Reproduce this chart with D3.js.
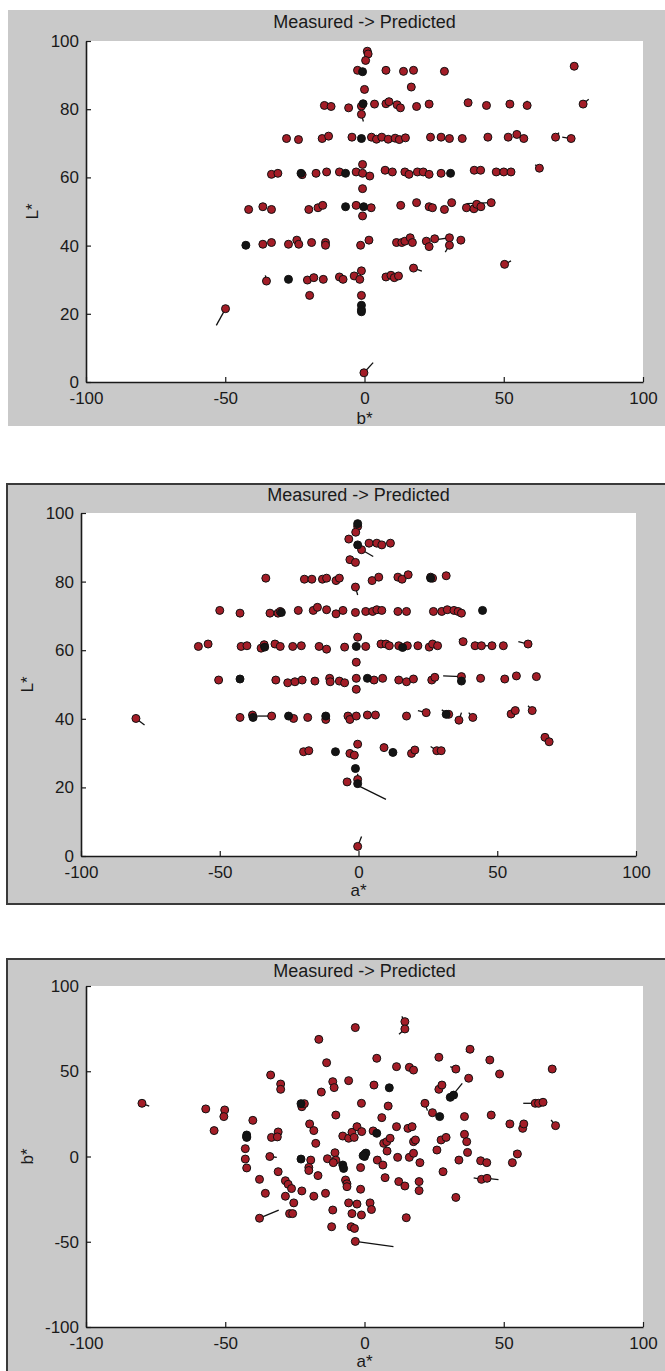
<!DOCTYPE html>
<html><head><meta charset="utf-8">
<script src="https://cdn.jsdelivr.net/npm/d3@7"></script>
<style>
html,body{margin:0;padding:0;background:#fff;}
svg text{font-family:"Liberation Sans",Arial,Helvetica,sans-serif;fill:#1a1a1a;}
</style></head>
<body>
<svg id="chart" width="665" height="1371"></svg>
<script>
// ---------- DATA ----------
const titleText = "Measured -> Predicted";
const xTicksAB = [-100, -50, 0, 50, 100];
const yTicksL = [0, 20, 40, 60, 80, 100];
const yTicksB = [-100, -50, 0, 50, 100];

// Panel 1: b* (x) vs L* (y) — measured points
const bL_points = [
[1,97],[1.3,96.2],[0.4,94.3],
[-2.5,91.4],[7.7,91.4],[14,91.1],[17.6,91.4],[28.7,91.1],
[0,85.8],[16.8,86.5],[75.3,92.6],
[-14.4,81.1],[-12,80.8],[-5.7,80.4],[-1.1,80.9],[3.6,81.5],[7.7,81.6],[8.8,82.2],[11.7,81.3],[12.9,80.4],[18.7,80.8],[23.2,81.5],[37.2,81.9],[43.8,81.1],[52.2,81.5],[58.4,81.1],[78.5,81.5],
[-1.1,78.5],
[-28,71.4],[-23.7,71.1],[-15.2,71.4],[-12.9,72.1],[-4.5,71.8],[2.5,71.8],[4.3,71.2],[6.2,71.8],[8.5,71.2],[11,71.5],[12.5,71.1],[14.7,71.6],[23.7,71.8],[27.5,71.8],[30.5,71.4],[35.1,71.4],[44.3,71.8],[51.6,71.8],[54.7,72.6],[57.2,71.4],[68.6,71.8],[74.2,71.4],
[62.8,62.7],
[-33.4,60.9],[-31.1,61.2],[-22.4,60.8],[-17.4,61.2],[-13.6,61.6],[-9,61.6],[-3,61.6],[-0.7,61.2],[1.9,60.4],[7.4,62.1],[10,61.6],[14.5,61.6],[16,60.9],[19,61.6],[21.1,61.6],[23.2,60.9],[27.5,61.2],[39.4,62.1],[41.7,62.1],[47.3,61.6],[50,61.6],[52.6,61.6],
[-0.7,63.8],[-0.7,56.7],
[-41.6,50.6],[-36.5,51.4],[-33.4,50.6],[-20,50.6],[-16.7,51.1],[-15,51.8],[-3,51.8],[2.4,51.1],[13,51.8],[18.7,52.6],[23.2,51.4],[24.4,51.1],[28.7,50.6],[31.3,52.6],[36.6,51.1],[39.3,50.8],[40.3,52.1],[41.8,51.4],[45.5,52.6],
[-0.7,48.7],
[-36.5,40.4],[-33.4,40.9],[-27.3,40.4],[-24.3,41.6],[-23.6,40.4],[-19,40.9],[-14,40.9],[-14,40.1],[-1.4,40.1],[1.6,41.6],[11.5,40.9],[13.4,40.9],[14.5,41.3],[16.4,42.3],[17.2,40.9],[22.2,41.3],[23.2,39.7],[25.2,42],[30.5,42.3],[30.5,40.1],[34.6,41.6],
[50.3,34.5],[17.6,33.4],
[-35.2,29.6],[-20.5,29.9],[-18.2,30.6],[-14.8,30.1],[-9,30.8],[-7.7,30.1],[-3.7,31.1],[-1.7,30.1],[-1.1,32.6],[7.7,30.8],[9.5,31.3],[10.7,30.6],[12.2,31.1],
[-19.7,25.4],[-1.1,25.4],
[-49.9,21.5],[-0.2,2.7]
];
// Panel 1: overlapping markers that read as black
const bL_dark = [[-0.7,91],[-0.5,81.6],[-1.1,71.4],[-22.8,61.2],[-6.8,61.2],[30.9,61.2],[-6.8,51.4],[-0.3,51.4],[-42.6,40.1],[-27.3,30.1],[-1.1,22.5],[-1.1,21.2],[-1.1,20.6]];
// Panel 1: measured -> predicted displacements [x1,y1,x2,y2]
const bL_arrows = [
[78.5,81.5,80.5,82.9],[-1.1,78.5,-0.4,76.4],[-15.2,71.4,-16.4,71.4],[68.6,71.8,69.8,73.1],[74.2,71.4,71,71.8],
[62.8,62.7,61.3,63.7],[45.5,52.6,36.6,52.3],[30.5,40.1,29,38.1],[30.5,42.3,26.5,41.8],[50.3,34.5,52.6,35.5],
[17.6,33.4,20.6,32.5],[-35.2,29.6,-35.6,31.3],[-49.9,21.5,-53.2,16.6],[-0.2,2.7,3.1,5.7],[58.4,81.1,58.4,82.5]
];

// Panel 2: a* (x) vs L* (y)
const aL_points = [
[-0.3,96.1],[-1,94.4],
[-3.5,92.4],[3.8,91.2],[6.6,91.2],[8.4,90.7],[11.5,91.2],[1.1,89.3],
[-3.1,86.4],[-1.1,85.6],
[-33.4,81],[-19.5,80.7],[-16.8,80.7],[-13,80.7],[-11.5,81],[-8.1,80.3],[-6.9,81],[4.9,80.3],[7.3,81.3],[14.2,81.3],[15.7,80.7],[17.9,82],[26,81.3],[26.7,81],[31.6,81.7],
[-1.1,78.4],
[-50,71.6],[-42.7,70.8],[-31.9,70.8],[-29,70.8],[-28.2,71.3],[-21.7,71.6],[-16.3,71.6],[-14.8,72.5],[-11.5,71.8],[-8.1,70.6],[-5.6,71.6],[-1.1,71],[2.6,71.3],[5.1,71.3],[6.6,71.8],[8.4,71.6],[14.2,71.3],[17.3,71.3],[27,71.3],[30,71.3],[32,71.8],[34.4,71.6],[35.9,71.3],[37.1,70.8],
[-0.3,63.8],
[-57.7,61.1],[-54.2,61.8],[-42.3,61.1],[-40.2,61.3],[-35.1,60.6],[-34,61.6],[-30.1,61.8],[-28.2,61.1],[-23.7,61.1],[-20.6,61.3],[-14.2,61.1],[-11.5,60.3],[-5,60.9],[2.6,61.1],[8.1,61.8],[9.9,61.8],[11.1,61.3],[14.5,61.3],[17.6,61.3],[21.4,61.3],[25.5,60.9],[26.7,61.8],[28.5,61.3],[37.7,62.5],[42,61.3],[44.3,61.3],[48.1,61.3],[52.2,61.3],[61.1,61.8],
[-0.8,56.5],
[-50.4,51.3],[-29.8,51.3],[-25.5,50.5],[-22.9,50.8],[-20.3,51.3],[-15.7,51],[-10.4,51.8],[-10.2,50.8],[-6.9,51],[-5,50.5],[-0.8,51.8],[5.6,51.3],[8.7,51.8],[14.5,51.3],[17.3,50.8],[19.8,51.6],[26.4,51.3],[27.5,52.1],[37.1,52.3],[44,51.8],[52.7,51.6],[56.9,52.5],[64.1,52.3],
[-0.8,48.6],
[-80.2,40.1],[-42.7,40.4],[-38.2,41.1],[-31.3,40.8],[-23.4,40.1],[-18.3,40.4],[-11.8,39.8],[-3.8,40.8],[-3.1,39.8],[-0.8,40.8],[3.2,41.1],[6.1,41.1],[17.3,40.8],[24.4,41.8],[32.5,41.3],[36.2,39.6],[41.2,40.4],[55,41.4],[56.5,42.4],[62.6,42.4],
[67.2,34.6],[68.7,33.3],
[-19.8,30.4],[-17.9,30.7],[-3.1,29.9],[-1.5,29.4],[-0.3,32.6],[9.2,31.6],[19.1,29.9],[20.3,30.9],[28.2,30.7],[29.8,30.7],
[-4.1,21.6],[-0.3,22.3],[-0.3,2.8]
];
const aL_dark = [[-0.3,96.9],[-0.3,90.7],[-0.8,61.1],[15.9,60.8],[-42.7,51.6],[3.2,51.8],[37.1,51],[-38,40.4],[-25.2,40.8],[-11.8,40.8],[31.6,41.3],[44.7,71.6],[-27.8,71],[-8.3,30.4],[12.4,30.2],[-1.1,25.5],[-0.3,21.1],[26,81],[-33.8,60.9]];
const aL_arrows = [
[1.1,89.3,5.3,87.3],[-1.1,78.4,-0.3,76.1],[37.7,62.5,36.2,63.2],[48.1,61.3,44.9,61.3],[61.1,61.8,57.6,62.5],
[37.1,52.3,30.5,52.5],[-38.2,40.8,-31.3,40.8],[-80.2,40.1,-77.1,38.2],[24.4,41.8,21.4,42.4],[32.5,41.3,30,42.6],
[36.2,39.6,37.1,41.8],[41.2,40.4,39.7,41.8],[62.6,42.4,61.1,43.8],[68.7,33.3,67.2,35.3],[28.2,30.7,26,31.9],
[-0.3,20.6,9.9,16.5],[-0.3,2.8,1.1,5.7],[-0.3,22.3,-0.3,24]
];

// Panel 3: a* (x) vs b* (y)
const ab_points = [
[-79.9,31.2],[-57,27.9],[-50.2,27.3],[-50.5,23.4],[-54,15.2],[-40.1,21.2],[-42.3,11.6],[-42.8,4.6],[-42.8,-1.5],[-42.3,-6.7],[-37.7,-13.4],[-35.6,-21.6],[-37.7,-36.2],
[-33.7,47.8],[-30.1,42.5],[-30.1,39.4],[-33.4,11.2],[-31,14.4],[-31.3,11.5],[-34,0],[-31,-8.9],[-28.4,-14.2],[-27.4,-16.3],[-26.2,-18.8],[-28.4,-23.3],[-25.4,-27.2],[-26.9,-33.5],[-25.8,-33.5],[-22.5,-20.2],
[-22.5,29.2],[-21.6,31],[-19.7,19.1],[-18.2,15.2],[-17.5,7.7],[-19.3,-2.1],[-20,-6.4],[-20,-8.2],[-16.7,-11.2],[-18.2,-23.3],
[-16.4,68.7],[-13.6,55],[-15.5,37.8],[-11.4,43.9],[-10.9,40.4],[-10.3,24.3],[-13.3,-1.3],[-10.6,2.2],[-10.3,-2.1],[-11.2,-3.6],[-14,-21.6],[-11.4,-31.4],[-11.8,-41.2],
[-7.8,12],[-5.7,10.7],[-4.5,14.2],[-3.7,11.2],[-6.8,-13.8],[-6.3,-16],[-6.3,-17.7],[-5.7,44.5],[-5.7,-27.2],[-4.5,-33.5],[-4.8,-41.2],[-3.6,-42.2],[-3.3,-49.8],[-3.3,75.6],[-2.7,17.5],[-1.1,31.2],[-1,14.6],[-1.4,-6.5],[-1.4,-19.2],[-2.7,-27.9],[-1.1,-34.3],
[2,-27.2],[2.5,-31.1],[3.4,41.9],[4.4,57.6],[3.1,15],[4.6,-2.1],[6.2,22.8],[6.6,-5],[6.9,7.7],[8,8.7],[8.5,29.6],[8.1,3.2],[9.2,10.7],[7.4,-12.4],
[11.5,52.7],[11.5,17.5],[11.9,-0.5],[12.3,-14.7],[14.5,79.1],[14.5,74.8],[16.1,52.3],[17.6,50.7],[15.6,16.5],[17.1,17.5],[16.1,-0.5],[14.5,-17.3],[15,-35.9],[17.6,8.7],[18.3,9.7],[17.6,1.9],[19.9,-3.6],[19.6,-14.7],[19.6,-20],
[21.7,31.2],[24.4,25.7],[26,3.8],[26.7,58.2],[26.7,39.4],[27.8,41.9],[27.5,9.7],[29.3,11.2],[28.2,-8.9],[37.4,45.9],[32.8,51.3],[32.8,-24],[33.9,-2.1],[35.9,23.4],[35.9,13],[36.7,8.7],[37,2.4],[37.9,62.9],[41.7,-2.5],[43.9,-3.6],[42,-13.4],[44,-12.8],[45,56.6],[45.5,24.3],[48.5,48.4],[52.2,19.1],[53.1,-3.6],[54.9,1.5],[56.8,16.5],[57.2,19.1],[61.3,31.2],[62.5,31.2],[64.1,31.8],[67.4,51.3],[68.6,18.1]
];
const ab_dark = [[-42.3,12.6],[-22.8,31],[-22.8,-1.5],[-7.8,-5],[-7.5,-7],[0,0],[0,1.2],[0.5,2],[-0.5,0.5],[4.4,13.6],[8.9,40.3],[27,23.4],[30.8,34.7],[32,36],[-42.3,11.2]];
const ab_arrows = [
[-79.9,31.2,-77.3,29.6],[-37.7,-36.2,-30.8,-31.4],[-3.3,-49.8,10.4,-52.9],[14.5,79.1,13.4,82.2],[14.5,74.8,12.4,71.7],
[21.7,31.2,22.6,26.9],[31,34.7,35.1,42.9],[32.8,51.3,30.8,52.7],[37.9,62.9,36.4,61.5],[42,-13.4,39.2,-12.6],
[44,-12.8,48.1,-13.6],[61.3,31.2,57,31.2],[68.6,18.1,67,21.4],[54.9,1.5,53.5,3],[-34,0,-31.5,-0.5],[-22.5,29.2,-21,30.5]
];

// ---------- LAYOUT ----------
const panels = [
  {bg:[8,10,657,416], border:false, ax:[86,643,41,382], titleY:22, xlabY:418, ylabX:32,
   xlab:"b*", ylab:"L*", yDomain:[0,100], yTicks:yTicksL, pts:bL_points, dark:bL_dark, arrows:bL_arrows},
  {bg:[7,484,660,420], border:true, ax:[81,636,513,856], titleY:495, xlabY:890, ylabX:27,
   xlab:"a*", ylab:"L*", yDomain:[0,100], yTicks:yTicksL, pts:aL_points, dark:aL_dark, arrows:aL_arrows},
  {bg:[7,959,660,414], border:true, ax:[86,643,986,1327], titleY:971, xlabY:1361, ylabX:27,
   xlab:"a*", ylab:"b*", yDomain:[-100,100], yTicks:yTicksB, pts:ab_points, dark:ab_dark, arrows:ab_arrows}
];

const svg = d3.select("#chart");
const FS = 17;
const RED = "#a31d27";
const fmt = d => String(d);   // plain hyphen-minus, as in the original

panels.forEach(p => {
  const g = svg.append("g");
  const [bx,by,bw,bh] = p.bg;
  g.append("rect").attr("x",bx).attr("y",by).attr("width",bw).attr("height",bh)
    .attr("fill","#c9c9c9")
    .attr("stroke", p.border ? "#3a3a3a" : "none").attr("stroke-width", p.border ? 2 : 0);
  const [L,R,T,B] = p.ax;
  const x = d3.scaleLinear().domain([-100,100]).range([L,R]);
  const y = d3.scaleLinear().domain(p.yDomain).range([B,T]);
  g.append("rect").attr("x",L).attr("y",T).attr("width",R-L).attr("height",B-T).attr("fill","#fff");

  // axes
  const xa = g.append("g").attr("transform",`translate(0,${B})`)
    .call(d3.axisBottom(x).tickValues(xTicksAB).tickSizeInner(-5).tickSizeOuter(0).tickPadding(8).tickFormat(fmt));
  const ya = g.append("g").attr("transform",`translate(${L},0)`)
    .call(d3.axisLeft(y).tickValues(p.yTicks).tickSizeInner(-5).tickSizeOuter(0).tickPadding(7).tickFormat(fmt));
  [xa,ya].forEach(a => {
    a.select(".domain").attr("stroke","#1a1a1a").attr("stroke-width",1.6);
    a.selectAll(".tick line").attr("stroke","#1a1a1a").attr("stroke-width",1.2);
    a.selectAll("text").attr("font-size",FS).attr("fill","#1a1a1a").attr("font-family",null);
  });
  xa.selectAll("text").attr("dy",null).attr("y",16).attr("dominant-baseline","central");
  ya.selectAll("text").attr("dy",null).attr("dominant-baseline","central");

  // arrows (measured -> predicted)
  g.append("g").selectAll("line").data(p.arrows).join("line")
    .attr("x1",d=>x(d[0])).attr("y1",d=>y(d[1])).attr("x2",d=>x(d[2])).attr("y2",d=>y(d[3]))
    .attr("stroke","#111").attr("stroke-width",1.3);
  // measured points
  g.append("g").selectAll("circle").data(p.pts).join("circle")
    .attr("cx",d=>x(d[0])).attr("cy",d=>y(d[1])).attr("r",4)
    .attr("fill",RED).attr("stroke","#111").attr("stroke-width",1);
  g.append("g").selectAll("circle").data(p.dark).join("circle")
    .attr("cx",d=>x(d[0])).attr("cy",d=>y(d[1])).attr("r",4)
    .attr("fill","#141414").attr("stroke","#111").attr("stroke-width",1);

  // texts
  g.append("text").attr("x",(L+R)/2).attr("y",p.titleY).attr("text-anchor","middle")
    .attr("dominant-baseline","central").attr("font-size",FS+1).text(titleText);
  g.append("text").attr("x",(L+R)/2).attr("y",p.xlabY).attr("text-anchor","middle")
    .attr("dominant-baseline","central").attr("font-size",FS).text(p.xlab);
  g.append("text").attr("transform",`translate(${p.ylabX},${(T+B)/2}) rotate(-90)`).attr("text-anchor","middle")
    .attr("dominant-baseline","central").attr("font-size",FS).text(p.ylab);
});
</script>
</body></html>
